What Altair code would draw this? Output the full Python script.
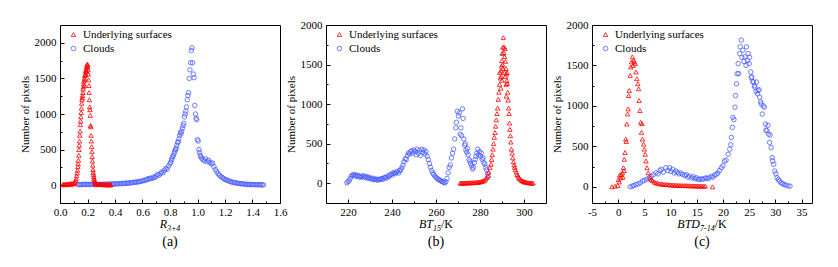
import altair as alt
import pandas as pd

RED = "#ff0000"
BLUE = "#4b5eff"
FONT = "Liberation Serif, Times New Roman, serif"
W, H = 220, 178
SERIES = ["Underlying surfaces", "Clouds"]

# ---------------- panel (a): R3+4 ----------------
a_red_x = [0.020, 0.026, 0.032, 0.038, 0.044, 0.050, 0.056, 0.062, 0.068, 0.074, 0.080, 0.086,
           0.092, 0.098, 0.104, 0.110, 0.114, 0.118, 0.121, 0.124, 0.127, 0.130, 0.132, 0.134,
           0.136, 0.138, 0.140, 0.142, 0.144, 0.146, 0.148, 0.150, 0.152, 0.154, 0.156, 0.158,
           0.160, 0.162, 0.164, 0.166, 0.168, 0.170, 0.172, 0.174, 0.176, 0.178, 0.180, 0.182,
           0.184, 0.186, 0.188, 0.190, 0.192, 0.194, 0.196, 0.198, 0.200, 0.202, 0.204, 0.206,
           0.208, 0.210, 0.212, 0.214, 0.216, 0.218, 0.220, 0.222, 0.224, 0.226, 0.228, 0.230,
           0.232, 0.234, 0.236, 0.238, 0.240, 0.242, 0.244, 0.246, 0.248, 0.250, 0.253, 0.256,
           0.259, 0.262, 0.266, 0.270, 0.275, 0.280, 0.286, 0.292, 0.298, 0.304, 0.310, 0.316,
           0.322, 0.328, 0.334, 0.340, 0.346, 0.352, 0.358, 0.364, 0.370]
a_red_y = [8, 12, 5, 15, 10, 18, 8, 20, 14, 22, 12, 25,
           18, 30, 22, 40, 60, 90, 130, 170, 210, 260, 300, 350,
           420, 500, 560, 620, 700, 760, 850, 900, 960, 1020, 1080, 1150,
           1200, 1230, 1260, 1300, 1350, 1380, 1420, 1460, 1400, 1500, 1540, 1480,
           1560, 1600, 1550, 1620, 1650, 1600, 1680, 1700, 1660, 1690, 1620, 1560,
           1480, 1400, 1300, 1200, 1100, 1060, 980, 840, 820, 700, 620, 540,
           470, 400, 340, 280, 220, 180, 150, 120, 90, 70, 50, 35,
           25, 20, 15, 12, 10, 14, 9, 12, 8, 11, 7, 10,
           6, 9, 6, 8, 5, 7, 5, 6, 5]
a_blue_x = [0.13, 0.14, 0.15, 0.16, 0.17, 0.18, 0.19, 0.20, 0.21, 0.22, 0.23, 0.24, 0.25, 0.26,
            0.27, 0.28, 0.29, 0.30, 0.31, 0.32, 0.33, 0.34, 0.35, 0.36, 0.37, 0.38, 0.39, 0.40,
            0.41, 0.42, 0.43, 0.44, 0.45, 0.46, 0.47, 0.48, 0.49, 0.50, 0.51, 0.52, 0.53, 0.54,
            0.55, 0.56, 0.57, 0.58, 0.59, 0.60, 0.61, 0.62, 0.63, 0.64, 0.65, 0.66, 0.67, 0.68,
            0.69, 0.70, 0.71, 0.72, 0.73, 0.74, 0.75, 0.76, 0.77, 0.78, 0.79, 0.800, 0.805, 0.810,
            0.815, 0.820, 0.825, 0.830, 0.835, 0.840, 0.845, 0.850, 0.855, 0.860, 0.865, 0.870,
            0.875, 0.880, 0.885, 0.890, 0.895, 0.900, 0.905, 0.910, 0.915, 0.920, 0.925, 0.930,
            0.935, 0.940, 0.945, 0.950, 0.955, 0.960, 0.965, 0.970, 0.975, 0.980, 0.985, 0.990,
            0.995, 1.000, 1.005, 1.010, 1.015, 1.020, 1.025, 1.030, 1.040, 1.050, 1.060, 1.070,
            1.080, 1.090, 1.100, 1.110, 1.120, 1.130, 1.140, 1.150, 1.160, 1.170, 1.180, 1.190,
            1.200, 1.210, 1.220, 1.230, 1.240, 1.250, 1.260, 1.270, 1.280, 1.290, 1.300, 1.310,
            1.320, 1.330, 1.340, 1.350, 1.360, 1.370, 1.380, 1.390, 1.400, 1.410, 1.420, 1.430,
            1.440, 1.450, 1.460, 1.470, 1.480]
a_blue_y = [8, 10, 6, 12, 9, 14, 10, 12, 8, 13, 10, 12, 9, 11,
            8, 12, 10, 13, 11, 14, 12, 15, 13, 16, 14, 18, 15, 20,
            17, 22, 19, 24, 21, 26, 23, 30, 26, 33, 30, 38, 34, 42,
            40, 48, 45, 55, 52, 62, 70, 66, 80, 92, 85, 100, 95, 115,
            108, 130, 150, 140, 165, 185, 175, 210, 235, 225, 270, 300, 320, 350,
            380, 400, 420, 450, 480, 500, 520, 560, 600, 610, 650, 700,
            740, 720, 760, 800, 840, 870, 960, 1000, 1040, 1100, 1200, 1260,
            1300, 1500, 1620, 1720, 1890, 1930, 1720, 1560, 1510, 1120, 1000, 940,
            920, 640, 620, 500, 460, 420, 400, 380, 360, 340, 370, 330,
            350, 320, 300, 310, 260, 220, 190, 160, 140, 120, 110, 95,
            80, 75, 65, 58, 50, 45, 40, 35, 32, 28, 25, 22,
            20, 18, 16, 14, 12, 11, 10, 9, 9, 8, 8, 7,
            7, 6, 6, 5, 5]

# ---------------- panel (b): BT15/K ----------------
b_red_x = [271.0, 271.5, 272.0, 272.5, 273.0, 273.5, 274.0, 274.5, 275.0, 275.5, 276.0, 276.5,
           277.0, 277.5, 278.0, 278.5, 279.0, 279.5, 280.0, 280.5, 281.0, 281.5, 282.0, 282.5,
           283.0, 283.5, 284.0, 284.5, 285.0, 285.3, 285.6, 285.9, 286.2, 286.5, 286.8, 287.1,
           287.4, 287.7, 288.0, 288.3, 288.6, 288.9, 289.2, 289.5, 289.8, 290.1, 290.4, 290.6,
           290.8, 291.0, 291.2, 291.4, 291.6, 291.8, 292.0, 292.2, 292.4, 292.6, 292.8, 293.0,
           293.2, 293.4, 293.6, 293.8, 294.0, 294.3, 294.6, 294.9, 295.2, 295.5, 295.8, 296.1,
           296.5, 296.9, 297.3, 297.7, 298.1, 298.6, 299.1, 299.6, 300.1, 300.6, 301.1, 301.6,
           302.1, 302.6, 303.1, 303.6, 304.1,
           289.0, 289.4, 289.6, 290.2, 290.0, 291.1, 291.5, 292.3, 292.0, 290.5, 291.9, 289.9]
b_red_y = [0, 2, 1, 3, 2, 4, 3, 5, 4, 6, 5, 7,
           6, 8, 8, 10, 12, 14, 16, 20, 24, 30, 38, 50,
           70, 95, 140, 200, 240, 300, 360, 430, 500, 580, 640, 720,
           800, 880, 950, 1060, 1150, 1250, 1330, 1420, 1480, 1640, 1720, 1840,
           1650, 1720, 1600, 1700, 1540, 1450, 1380, 1300, 1260, 1150, 1050, 950,
           880, 760, 680, 600, 520, 430, 380, 320, 270, 230, 200, 170,
           140, 110, 90, 70, 55, 42, 32, 24, 18, 14, 10, 8,
           6, 4, 3, 2, 1,
           1400, 1200, 1350, 1500, 1300, 1400, 1350, 1400, 1100, 1450, 1250, 1550]
b_blue_x = [219.5, 220.0, 220.5, 221.0, 221.5, 222.0, 222.5, 223.0, 223.5, 224.0, 224.5, 225.0,
            225.5, 226.0, 226.5, 227.0, 227.5, 228.0, 228.5, 229.0, 229.5, 230.0, 230.5, 231.0,
            231.5, 232.0, 232.5, 233.0, 233.5, 234.0, 234.5, 235.0, 235.5, 236.0, 236.5, 237.0,
            237.5, 238.0, 238.5, 239.0, 239.5, 240.0, 240.5, 241.0, 241.5, 242.0, 242.5, 243.0,
            243.5, 244.0, 244.5, 245.0, 245.5, 246.0, 246.5, 247.0, 247.5, 248.0, 248.5, 249.0,
            249.5, 250.0, 250.5, 251.0, 251.5, 252.0, 252.5, 253.0, 253.5, 254.0, 254.5, 255.0,
            255.5, 256.0, 256.5, 257.0, 257.5, 258.0, 258.5, 259.0, 259.5, 260.0, 260.5, 261.0,
            261.5, 262.0, 262.5, 263.0, 263.5, 264.0, 264.5, 265.0, 265.5, 266.0, 266.5, 267.0,
            267.5, 268.0, 268.5, 269.0, 269.3, 269.7, 270.2, 270.6, 271.0, 271.3, 271.6, 272.0,
            272.3, 272.6, 273.0, 273.3, 273.6, 274.0, 274.3, 274.6, 275.0, 275.4, 275.8, 276.2,
            276.6, 277.0, 277.4, 277.8, 278.2, 278.6, 279.0, 279.4, 279.8, 280.2, 280.6, 281.0,
            281.4, 281.8, 282.2, 282.6, 283.0, 283.4, 283.8]
b_blue_y = [5, 20, 30, 60, 90, 100, 110, 95, 105, 85, 100, 80,
            90, 75, 85, 95, 80, 70, 85, 65, 75, 60, 55, 65,
            50, 45, 55, 45, 40, 50, 45, 55, 60, 50, 70, 75,
            65, 90, 80, 100, 115, 105, 125, 135, 120, 140, 150, 130,
            160, 170, 195, 230, 270, 310, 300, 350, 380, 370, 400, 410,
            380, 420, 400, 360, 430, 380, 410, 350, 430, 390, 420, 370,
            400, 340, 300, 250, 200, 160, 130, 110, 90, 75, 60, 50,
            40, 35, 25, 20, 10, 5, 20, 60, 130, 200, 230, 320,
            380, 430, 560, 700, 770, 910, 850, 890, 620, 700, 600, 940,
            820, 560, 480, 500, 420, 390, 440, 360, 300, 280, 250, 220,
            180, 200, 260, 300, 340, 380, 430, 360, 400, 340, 380, 300,
            320, 260, 240, 200, 170, 120, 80]

# ---------------- panel (c): BTD7-14/K ----------------
c_red_x = [-1.2, -0.6, -0.1, 0.05, 0.2, 0.3, 0.5, 0.6, 0.8, 0.9, 1.0, 1.1, 1.15, 1.3, 1.45, 1.55,
           1.65, 1.8, 1.9, 2.0, 2.1, 2.3, 2.4, 2.55, 2.7, 2.85, 2.95, 3.1, 3.25, 3.4, 3.55, 3.75,
           3.9, 4.0, 4.15, 4.3, 4.45, 4.55, 4.65, 4.85, 5.0, 5.15, 5.3, 5.5, 5.75, 6.05, 6.3, 6.55,
           6.9, 7.2, 7.5, 7.85, 8.2, 8.5, 8.8, 9.1, 9.4, 9.7, 10.0, 10.3, 10.6, 10.9, 11.2, 11.5,
           11.8, 12.1, 12.4, 12.7, 13.0, 13.3, 13.6, 13.9, 14.2, 14.5, 14.8, 15.1, 15.4, 15.7,
           16.0, 16.3, 16.6, 18.0]
c_red_y = [0, 8, 17, 90, 60, 145, 112, 150, 174, 120, 236, 200, 340, 423, 589, 560,
           776, 900, 962, 1128, 1191, 1377, 1481, 1543, 1606, 1500, 1564, 1543, 1520, 1419, 1336, 1274,
           1212, 1066, 942, 797, 672, 780, 589, 527, 465, 402, 319, 236, 174, 112, 90, 79,
           60, 50, 45, 37, 35, 32, 30, 28, 27, 25, 24, 22, 21, 20, 19, 18,
           17, 16, 15, 15, 14, 13, 13, 12, 12, 11, 11, 10, 10, 9,
           9, 8, 8, 0]
c_blue_x = [2.3, 2.7, 3.0, 3.4, 3.8, 4.2, 4.65, 5.0, 5.5, 5.93, 6.3, 6.7, 7.2, 7.6, 8.0, 8.2,
            8.6, 9.1, 9.5, 9.8, 10.1, 10.4, 10.7, 11.0, 11.3, 11.6, 12.0, 12.3, 12.7, 13.0, 13.3,
            13.6, 14.0, 14.3, 14.6, 14.9, 15.2, 15.5, 15.8, 16.1, 16.5, 16.8, 17.1, 17.4, 17.8,
            18.1, 18.4, 18.7, 19.0, 19.3, 19.7, 20.0, 20.3, 20.6, 21.0, 21.3, 21.5, 21.6, 21.8,
            21.9, 22.1, 22.3, 22.4, 22.6, 22.7, 22.9, 23.0, 23.2, 23.3, 23.5, 23.6, 23.8, 24.0,
            24.2, 24.4, 24.5, 24.7, 24.8, 25.0, 25.1, 25.3, 25.4, 25.5, 25.7, 25.8, 26.0, 26.1,
            26.3, 26.4, 26.6, 26.7, 26.9, 27.0, 27.2, 27.3, 27.5, 27.7, 27.9, 28.1, 28.2, 28.4,
            28.6, 28.7, 28.9, 29.0, 29.2, 29.4, 29.5, 29.7, 29.9, 30.1, 30.3, 30.6, 30.8, 31.1,
            31.4, 31.7, 32.0, 32.4, 32.8]
c_blue_y = [0, 10, 15, 29, 35, 50, 71, 80, 95, 112, 130, 150, 174, 160, 200, 216,
            180, 236, 200, 236, 190, 216, 170, 195, 180, 160, 170, 154, 140, 150, 120,
            133, 110, 125, 100, 112, 95, 91, 100, 90, 105, 110, 100, 112, 130,
            120, 145, 154, 170, 200, 236, 260, 319, 330, 402, 465, 520, 610, 734,
            859, 830, 984, 1128, 1274, 1398, 1523, 1400, 1647, 1730, 1813, 1600, 1689, 1550,
            1606, 1500, 1730, 1560, 1647, 1523, 1600, 1419, 1350, 1357, 1300, 1295, 1250, 1232,
            1180, 1295, 1150, 1191, 1200, 1108, 1050, 1025, 900, 1000, 984, 776, 700, 693,
            760, 651, 548, 640, 485, 361, 320, 278, 195, 160, 112, 90, 71, 50,
            37, 28, 21, 12, 8]

# char widths (em) for positioning the composite axis titles
CW = {"R": 0.611, "B": 0.611, "T": 0.556, "D": 0.722, "K": 0.722, "/": 0.278,
      "+": 0.675, "-": 0.333}


def text_width(s, fs):
    return sum(CW.get(ch, 0.5) for ch in s) * fs


def make_legend():
    return alt.Legend(title=None, orient="none", legendX=8, legendY=4,
                      direction="vertical", labelFont=FONT, labelFontSize=11,
                      labelColor="black", symbolSize=20, symbolStrokeWidth=0.8,
                      rowPadding=2, padding=0, labelOffset=4)


def panel(rx, ry, bx, by, xdom, xmaj, xmin_, ydom, ymaj, ymin_, xlabel_expr, title_parts, cap):
    df = pd.DataFrame({
        "x": list(bx) + list(rx),
        "y": list(by) + list(ry),
        "s": ["Clouds"] * len(bx) + ["Underlying surfaces"] * len(rx),
    })
    xs = alt.Scale(domain=xdom, nice=False, zero=False)
    ys = alt.Scale(domain=ydom, nice=False, zero=False)

    pts = alt.Chart(df).mark_point(filled=False, size=20, strokeWidth=0.8, opacity=1).encode(
        x=alt.X("x:Q", scale=xs, axis=alt.Axis(
            values=xmaj, ticks=False, tickSize=0, domain=False, grid=False, labelFlush=False,
            labelOverlap=False, labelPadding=3, labelExpr=xlabel_expr, title=None)),
        y=alt.Y("y:Q", scale=ys, axis=alt.Axis(
            values=ymaj, ticks=False, tickSize=0, domain=False, grid=False, labelPadding=4,
            labelOverlap=False, labelFlush=False, labelExpr="'' + datum.value",
            title="Number of pixels", titleX=-35, titleY=H / 2, titleAngle=270,
            titleAlign="center", titleBaseline="middle")),
        color=alt.Color("s:N", scale=alt.Scale(domain=SERIES, range=[RED, BLUE]),
                        legend=make_legend()),
        shape=alt.Shape("s:N", scale=alt.Scale(domain=SERIES, range=["triangle-up", "circle"]),
                        legend=make_legend()),
    )

    def tick_layer(xv, yv, size):
        return alt.Chart(df).mark_point(opacity=0).encode(
            x=alt.X("x:Q", scale=xs, axis=alt.Axis(
                orient="top", offset=-H, values=xv, labels=False, domain=False, grid=False,
                ticks=True, tickSize=size, tickColor="black", tickWidth=1, title=None)),
            y=alt.Y("y:Q", scale=ys, axis=alt.Axis(
                orient="right", offset=-W, values=yv, labels=False, domain=False, grid=False,
                ticks=True, tickSize=size, tickColor="black", tickWidth=1, title=None)),
        )

    layers = [tick_layer(xmaj, ymaj, 4), tick_layer(xmin_, ymin_, 2), pts]

    total = sum(text_width(t, fs) for t, fs, _, _ in title_parts)
    xpos = W / 2 - total / 2
    for t, fs, style, dy in title_parts:
        layers.append(
            alt.Chart(pd.DataFrame({"t": [t]})).mark_text(
                font=FONT, fontSize=fs, fontStyle=style, align="left", baseline="alphabetic",
                color="black").encode(text="t:N", x=alt.value(xpos), y=alt.value(H + 25 + dy)))
        xpos += text_width(t, fs)

    layers.append(
        alt.Chart(pd.DataFrame({"t": [cap]})).mark_text(
            font=FONT, fontSize=14, align="center", baseline="alphabetic", color="black"
        ).encode(text="t:N", x=alt.value(W / 2), y=alt.value(H + 43)))

    return alt.layer(*layers).resolve_axis(x="independent", y="independent").properties(
        width=W, height=H)


pa = panel(a_red_x, a_red_y, a_blue_x, a_blue_y,
           [0, 1.6], [0.0, 0.2, 0.4, 0.6, 0.8, 1.0, 1.2, 1.4, 1.6],
           [0.1, 0.3, 0.5, 0.7, 0.9, 1.1, 1.3, 1.5],
           [-250, 2250], [0, 500, 1000, 1500, 2000], [250, 750, 1250, 1750],
           "format(datum.value, '.1f')",
           [("R", 12, "italic", 0), ("3+4", 8, "italic", 3)], "(a)")

pb = panel(b_red_x, b_red_y, b_blue_x, b_blue_y,
           [210, 310], [220, 240, 260, 280, 300], [230, 250, 270, 290],
           [-250, 2000], [0, 500, 1000, 1500, 2000], [250, 750, 1250, 1750],
           "'' + datum.value",
           [("BT", 12, "italic", 0), ("15", 8, "italic", 3), ("/K", 12, "normal", 0)], "(b)")

pc = panel(c_red_x, c_red_y, c_blue_x, c_blue_y,
           [-5, 37], [-5, 0, 5, 10, 15, 20, 25, 30, 35],
           [-2.5, 2.5, 7.5, 12.5, 17.5, 22.5, 27.5, 32.5],
           [-200, 2000], [0, 500, 1000, 1500, 2000], [250, 750, 1250, 1750],
           "'' + datum.value",
           [("BTD", 12, "italic", 0), ("7-14", 8, "italic", 3), ("/K", 12, "normal", 0)], "(c)")

chart = alt.hconcat(pa, pb, pc, spacing=46, bounds="flush").resolve_scale(
    color="independent", shape="independent"
).configure_view(
    stroke="black", strokeWidth=1
).configure_axis(
    labelFont=FONT, labelFontSize=11, labelColor="black",
    titleFont=FONT, titleFontSize=11, titleFontWeight="normal", titleColor="black"
).properties(
    padding={"left": 10, "top": 10, "right": 5, "bottom": 5},
    background="white"
)

chart.save("out.html", embed_options={"renderer": "svg", "actions": False})
